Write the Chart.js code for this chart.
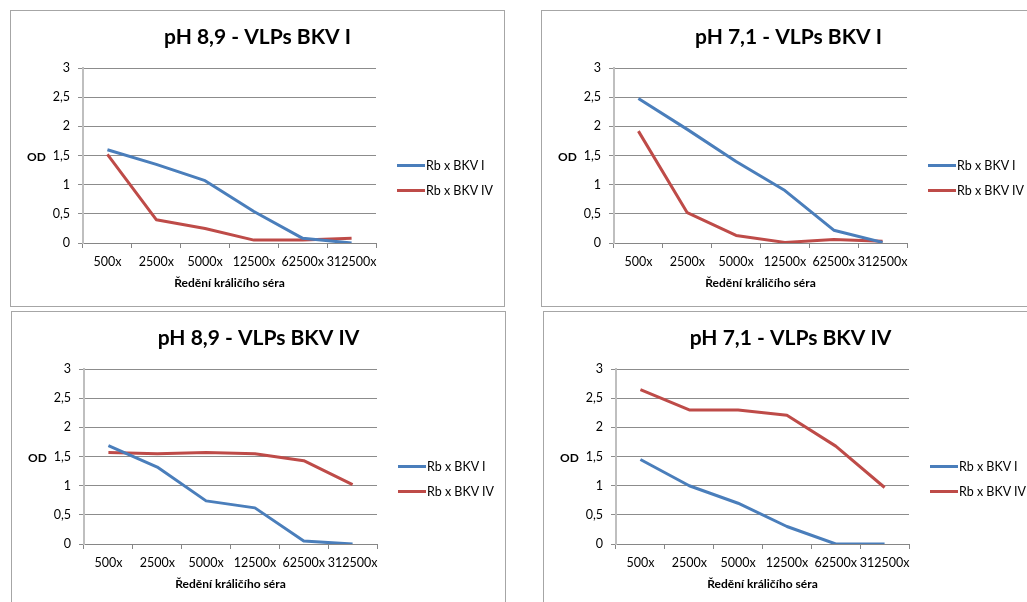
<!DOCTYPE html>
<html>
<head>
<meta charset="utf-8">
<script src="https://cdn.jsdelivr.net/npm/chart.js@4.4.1/dist/chart.umd.min.js"></script>
<style>
  html, body { margin:0; padding:0; background:#fff; width:1027px; height:602px; overflow:hidden; }
  .panel { position:absolute; width:495px; height:297px; }
  .panel canvas { position:absolute; left:0; top:0; }
  .frame { position:absolute; left:0; top:0; width:495px; height:297px; box-sizing:border-box; border:1px solid #a6a6a6; pointer-events:none; }
  .od { position:absolute; left:17px; top:139px; font:bold 12px Lato, sans-serif; color:#000; }
  .leg { position:absolute; left:387px; font:12.5px Lato, sans-serif; color:#000; white-space:nowrap; }
  .leg span.sw { display:inline-block; width:28px; height:3px; vertical-align:middle; margin-right:1px; position:relative; top:-1px; }
</style>
</head>
<body>
<script>
// ---- data ----
const categories = ['500x', '2500x', '5000x', '12500x', '62500x', '312500x'];
const seriesNames = ['Rb x BKV I', 'Rb x BKV IV'];
const yTickLabels = ['0', '0,5', '1', '1,5', '2', '2,5', '3'];
const titles = ['pH 8,9 - VLPs BKV I', 'pH 7,1 - VLPs BKV I', 'pH 8,9 - VLPs BKV IV', 'pH 7,1 - VLPs BKV IV'];
const xAxisTitle = 'Ředění králičího séra';
const yAxisTitle = 'OD';

const p1BKVI  = [1.60, 1.35, 1.07, 0.54, 0.08, 0.00];
const p1BKVIV = [1.52, 0.40, 0.25, 0.05, 0.05, 0.08];
const p2BKVI  = [2.48, 1.95, 1.40, 0.90, 0.22, 0.01];
const p2BKVIV = [1.92, 0.52, 0.13, 0.01, 0.06, 0.03];
const p3BKVI  = [1.69, 1.32, 0.74, 0.62, 0.05, 0.00];
const p3BKVIV = [1.57, 1.55, 1.57, 1.55, 1.43, 1.02];
const p4BKVI  = [1.45, 1.00, 0.70, 0.30, 0.00, 0.00];
const p4BKVIV = [2.65, 2.30, 2.30, 2.21, 1.68, 0.97];

const panelData = [[p1BKVI, p1BKVIV], [p2BKVI, p2BKVIV], [p3BKVI, p3BKVIV], [p4BKVI, p4BKVIV]];
const panelPos = [[10, 10], [541, 10], [11, 311], [543, 311]];
const colors = ['#4A7EBB', '#BE4B48'];

Chart.defaults.font.family = 'Lato, sans-serif';
Chart.defaults.color = '#000';

panelData.forEach((series, k) => {
  const div = document.createElement('div');
  div.className = 'panel';
  div.style.left = panelPos[k][0] + 'px';
  div.style.top = panelPos[k][1] + 'px';
  const cv = document.createElement('canvas');
  cv.width = 495; cv.height = 297;
  cv.style.width = '495px'; cv.style.height = '297px';
  div.appendChild(cv);
  const fr = document.createElement('div'); fr.className = 'frame'; div.appendChild(fr);
  const od = document.createElement('div'); od.className = 'od'; od.textContent = yAxisTitle; div.appendChild(od);
  seriesNames.forEach((n, i) => {
    const l = document.createElement('div');
    l.className = 'leg';
    l.style.top = (148 + i * 25) + 'px';
    l.innerHTML = '<span class="sw" style="background:' + colors[i] + '"></span>';
    l.appendChild(document.createTextNode(n));
    div.appendChild(l);
  });
  document.body.appendChild(div);

  new Chart(cv, {
    type: 'line',
    data: {
      labels: categories,
      datasets: series.map((d, i) => ({
        label: seriesNames[i],
        data: d,
        borderColor: colors[i],
        backgroundColor: colors[i],
        borderWidth: 3,
        pointRadius: 0,
        tension: 0,
        borderJoinStyle: 'round',
        borderCapStyle: 'butt',
        fill: false
      }))
    },
    options: {
      responsive: false,
      animation: false,
      devicePixelRatio: 1,
      layout: { padding: { left: 0, right: 0, top: 0, bottom: 4 } },
      plugins: {
        legend: { display: false },
        tooltip: { enabled: false },
        title: {
          display: true,
          text: titles[k],
          font: { size: 21, weight: 'bold' },
          color: '#000',
          padding: { top: 15, bottom: 18 }
        }
      },
      scales: {
        x: {
          type: 'category',
          offset: true,
          grid: { offset: true, drawOnChartArea: false, drawTicks: true, tickLength: 5, color: '#868686' },
          border: { color: '#868686', width: 1 },
          ticks: { font: { size: 12.5 }, padding: 6, maxRotation: 0, autoSkip: false, color: '#000' },
          title: { display: true, text: xAxisTitle, font: { size: 12, weight: 'bold' }, color: '#000', padding: { top: 0, bottom: 13 } },
          afterFit: (s) => { s.height = 60; }
        },
        y: {
          min: 0, max: 3,
          ticks: { stepSize: 0.5, font: { size: 12.5 }, padding: 8, color: '#000',
                   callback: (v) => yTickLabels[Math.round(v / 0.5)] },
          grid: { color: '#8c8c8c', tickLength: 5, lineWidth: 1 },
          border: { color: '#bfbfbf', width: 2 },
          afterFit: (s) => { s.width = 73; }
        },
        yRight: {
          position: 'right',
          display: true,
          min: 0, max: 3,
          grid: { display: false, drawTicks: false },
          border: { display: false },
          ticks: { display: false },
          afterFit: (s) => { s.width = 129; }
        }
      }
    }
  });
});
</script>
</body>
</html>
